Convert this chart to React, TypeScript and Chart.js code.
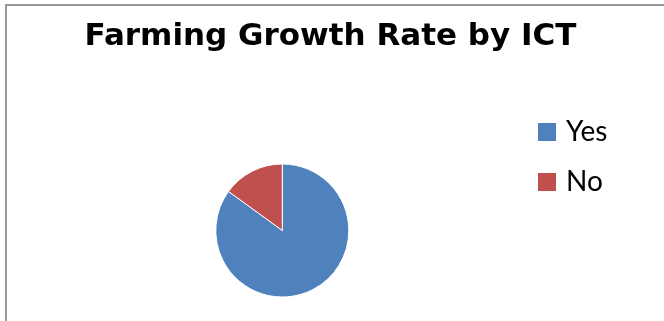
import React, { useEffect, useRef } from "react";
import { Chart, registerables } from "chart.js";

Chart.register(...registerables);

const categories = ["Yes", "No"];
const values = [85, 15];
const sliceColors = ["#4F81BD", "#C0504D"];
const chartTitle = "Farming Growth Rate by ICT";

function makeSwatch(color: string): HTMLCanvasElement {
  const c = document.createElement("canvas");
  c.width = 18;
  c.height = 18;
  const g = c.getContext("2d");
  if (g) {
    g.fillStyle = color;
    g.fillRect(0, 0, 18, 18);
  }
  return c;
}

export default function App() {
  const ref = useRef<HTMLCanvasElement | null>(null);

  useEffect(() => {
    if (!ref.current) return;
    const swatches = sliceColors.map(makeSwatch);
    const chart = new Chart(ref.current, {
      type: "pie",
      data: {
        labels: categories,
        datasets: [
          {
            data: values,
            backgroundColor: sliceColors,
            borderColor: "#ffffff",
            borderWidth: 1,
          },
        ],
      },
      options: {
        responsive: false,
        animation: false,
        layout: { padding: { top: 16.5, bottom: 23.5, left: 44.6, right: 47.6 } },
        plugins: {
          title: {
            display: true,
            text: chartTitle,
            color: "#000000",
            font: { family: "DejaVu Sans", size: 31, weight: "bold", lineHeight: 1.2 },
            padding: { top: 2.2, bottom: 107.6 },
          },
          legend: {
            display: true,
            position: "right",
            align: "center",
            maxWidth: 96.4,
            labels: {
              usePointStyle: true,
              boxWidth: 10,
              boxHeight: 18,
              padding: 22,
              color: "#000000",
              font: { family: "Lato", size: 28 },
              generateLabels: (ch: any) => {
                const items = (Chart as any).overrides.pie.plugins.legend.labels.generateLabels(ch);
                return items.map((it: any, i: number) => ({ ...it, pointStyle: swatches[i % swatches.length] }));
              },
            },
          },
          tooltip: { enabled: false },
        },
      },
    });
    return () => chart.destroy();
  }, []);

  return (
    <div style={{ position: "absolute", left: 0, top: 0, width: 664, height: 321, background: "#fff" }}>
      <div
        style={{
          position: "absolute",
          left: 5,
          top: 4,
          right: 0,
          bottom: 0,
          borderTop: "2px solid #999",
          borderLeft: "2px solid #999",
        }}
      />
      <canvas ref={ref} width={664} height={321} style={{ position: "absolute", left: 0, top: 0, display: "block" }} />
    </div>
  );
}
